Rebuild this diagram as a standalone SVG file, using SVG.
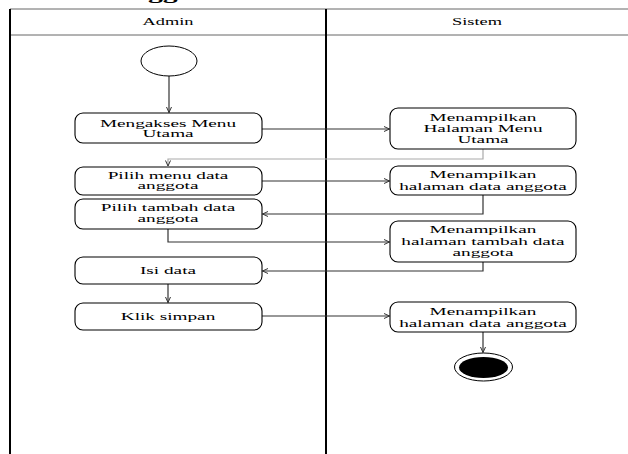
<svg xmlns="http://www.w3.org/2000/svg" width="628" height="454" viewBox="0 0 628 454">
<style>
.t{font-family:"Liberation Serif","DejaVu Serif","Times New Roman",serif;font-size:11px;fill:#000;text-anchor:middle}
.h{font-family:"Liberation Serif","DejaVu Serif","Times New Roman",serif;font-size:10.5px;fill:#000;text-anchor:middle}
.ttl{font-family:"Liberation Serif","DejaVu Serif","Times New Roman",serif;font-size:17px;font-weight:bold;fill:#000}
.box{fill:#fff;stroke:#000;stroke-width:1.1}
.c{fill:none;stroke:#333;stroke-width:1.2}
.cl{fill:none;stroke:#aaa;stroke-width:1.2}
</style>
<defs>
<marker id="ah" markerWidth="8" markerHeight="8" refX="6" refY="3" orient="auto" markerUnits="userSpaceOnUse">
<path d="M0.5,0.5 L6,3 L0.5,5.5" fill="none" stroke="#333" stroke-width="1"/>
</marker>
</defs>
<rect width="628" height="454" fill="#fff"/>
<text class="ttl" transform="translate(43,-1) scale(1.75,1)">Data Anggota</text>
<g id="frame">
<line x1="10" y1="9" x2="628" y2="9" stroke="#666" stroke-width="1"/>
<line x1="10" y1="35" x2="628" y2="35" stroke="#666" stroke-width="1"/>
<line x1="10" y1="9" x2="10" y2="454" stroke="#000" stroke-width="2"/>
<line x1="326" y1="9" x2="326" y2="454" stroke="#000" stroke-width="2"/>
<text class="h" transform="translate(168,25) scale(1.75,1)">Admin</text>
<text class="h" transform="translate(477,25) scale(1.75,1)">Sistem</text>
</g>
<g id="connectors">
<path class="c" d="M169,76 V112.5" marker-end="url(#ah)"/>
<path class="c" d="M262,129 H389.5" marker-end="url(#ah)"/>
<path class="cl" d="M483,149 V159 H168 V166" marker-end="url(#ah)"/>
<path class="c" d="M262,181 H389.5" marker-end="url(#ah)"/>
<path class="c" d="M483,195 V214 H262.5" marker-end="url(#ah)"/>
<path class="c" d="M168,229 V242 H389.5" marker-end="url(#ah)"/>
<path class="c" d="M483,262 V271 H262.5" marker-end="url(#ah)"/>
<path class="c" d="M168,284 V302.5" marker-end="url(#ah)"/>
<path class="c" d="M262,316 H389.5" marker-end="url(#ah)"/>
<path class="c" d="M483,332 V352.5" marker-end="url(#ah)"/>
</g>
<g id="start"><ellipse cx="169" cy="61" rx="28" ry="15" fill="#fff" stroke="#000" stroke-width="1"/></g>
<g id="a1"><rect class="box" x="75" y="113" width="187" height="30" rx="8"/>
<text class="t" transform="translate(168,127) scale(1.75,1)"><tspan x="0">Mengakses Menu</tspan><tspan x="0" dy="10.5">Utama</tspan></text></g>
<g id="s1"><rect class="box" x="390" y="108" width="186" height="41" rx="8"/>
<text class="t" transform="translate(483,120.5) scale(1.75,1)"><tspan x="0">Menampilkan</tspan><tspan x="0" dy="11.3">Halaman Menu</tspan><tspan x="0" dy="11.3">Utama</tspan></text></g>
<g id="a2"><rect class="box" x="75" y="167" width="187" height="28" rx="8"/>
<text class="t" transform="translate(168,178.5) scale(1.75,1)"><tspan x="0">Pilih menu data</tspan><tspan x="0" dy="10.5">anggota</tspan></text></g>
<g id="s2"><rect class="box" x="390" y="166" width="186" height="29" rx="8"/>
<text class="t" transform="translate(483,178.3) scale(1.75,1)"><tspan x="0">Menampilkan</tspan><tspan x="0" dy="11.5">halaman data anggota</tspan></text></g>
<g id="a3"><rect class="box" x="75" y="199" width="187" height="30" rx="8"/>
<text class="t" transform="translate(168,211) scale(1.75,1)"><tspan x="0">Pilih tambah data</tspan><tspan x="0" dy="11.5">anggota</tspan></text></g>
<g id="s3"><rect class="box" x="390" y="221" width="186" height="41" rx="8"/>
<text class="t" transform="translate(483,233.3) scale(1.75,1)"><tspan x="0">Menampilkan</tspan><tspan x="0" dy="11.5">halaman tambah data</tspan><tspan x="0" dy="11.2">anggota</tspan></text></g>
<g id="a4"><rect class="box" x="75" y="257" width="187" height="27" rx="8"/>
<text class="t" transform="translate(168,273.5) scale(1.75,1)">Isi data</text></g>
<g id="a5"><rect class="box" x="75" y="303" width="187" height="27" rx="8"/>
<text class="t" transform="translate(168,319.5) scale(1.75,1)">Klik simpan</text></g>
<g id="s4"><rect class="box" x="390" y="302" width="186" height="30" rx="8"/>
<text class="t" transform="translate(483,315) scale(1.75,1)"><tspan x="0">Menampilkan</tspan><tspan x="0" dy="11.7">halaman data anggota</tspan></text></g>
<g id="end"><ellipse cx="483.5" cy="367" rx="29" ry="14" fill="#fff" stroke="#000" stroke-width="1"/>
<ellipse cx="483.5" cy="367.5" rx="24.5" ry="10.5" fill="#000"/></g>
</svg>
